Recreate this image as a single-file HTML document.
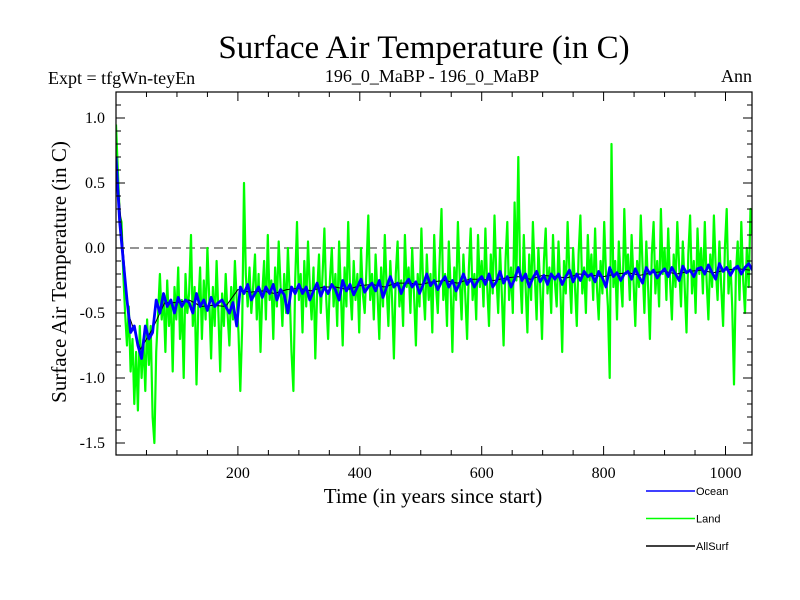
<!DOCTYPE html>
<html><head><meta charset="utf-8">
<style>
html,body{margin:0;padding:0;background:#fff;}
svg{display:block;}
text{font-family:"Liberation Serif",serif;fill:#000;}
</style></head>
<body>
<svg id="chart" width="800" height="600" xmlns="http://www.w3.org/2000/svg">
<text x="424" y="58" font-size="33" text-anchor="middle">Surface Air Temperature (in C)</text>
<text x="48" y="84" font-size="18">Expt = tfgWn-teyEn</text>
<text x="432" y="82" font-size="18" text-anchor="middle">196_0_MaBP - 196_0_MaBP</text>
<text x="752" y="82" font-size="18" text-anchor="end">Ann</text>
<text transform="translate(66,272) rotate(-90)" font-size="21" text-anchor="middle">Surface Air Temperature (in C)</text>
<text x="433" y="503" font-size="21" text-anchor="middle">Time (in years since start)</text>
<g id="plot"></g>
<g id="legend"></g>
</svg>
<script>
const landStep = 3;
const landValues = [
0.95,0.6,0.25,0.2,-0.2,-0.5,-0.75,-0.45,-0.95,-0.7,-1.2,-0.8,-1.25,-0.6,-1.0,-0.7,-1.1,-0.55,-0.9,-0.6,
-1.3,-1.5,-0.8,-0.5,-0.2,-0.55,-0.35,-0.8,-0.25,-0.6,-0.4,-0.95,-0.3,-0.55,-0.15,-0.7,-0.4,-1.0,-0.2,-0.5,
-0.35,0.1,-0.6,-0.3,-1.05,-0.45,-0.15,-0.7,-0.25,-0.55,0.0,-0.4,-0.85,-0.3,-0.6,-0.1,-0.5,-0.95,-0.35,-0.6,
-0.2,-0.5,-0.75,-0.3,-0.55,-0.1,-0.4,-0.65,-1.1,-0.6,0.5,-0.2,-0.45,-0.15,-0.5,-0.3,-0.05,-0.55,-0.2,-0.8,
-0.35,-0.1,-0.55,0.1,-0.4,-0.25,-0.7,-0.15,-0.45,0.05,-0.3,-0.6,-0.2,-0.5,0.0,-0.35,-0.8,-1.1,-0.25,0.2,
-0.4,-0.2,-0.65,-0.1,-0.45,0.05,-0.3,-0.55,-0.15,-0.85,-0.35,-0.05,-0.5,-0.2,0.15,-0.4,-0.7,-0.25,0.0,-0.45,
-0.2,-0.6,0.05,-0.35,-0.75,-0.15,-0.45,0.2,-0.3,-0.55,-0.1,-0.4,-0.2,-0.65,0.0,-0.35,-0.5,-0.15,0.25,-0.4,
-0.2,-0.55,-0.05,-0.35,-0.7,-0.15,-0.45,0.1,-0.3,-0.6,-0.1,-0.4,-0.85,-0.2,0.05,-0.45,-0.25,-0.6,0.1,-0.3,
-0.15,-0.5,0.0,-0.35,-0.75,-0.2,-0.45,0.15,-0.3,-0.55,-0.05,-0.4,-0.2,-0.65,0.1,-0.3,-0.5,-0.1,0.3,-0.4,
-0.2,-0.6,0.05,-0.3,-0.8,-0.15,-0.4,0.2,-0.25,-0.55,-0.05,-0.35,-0.7,-0.15,0.15,-0.4,-0.2,-0.55,0.1,-0.3,
-0.1,-0.45,0.15,-0.3,-0.6,-0.05,-0.35,0.25,-0.2,-0.5,0.0,-0.35,-0.75,-0.1,0.2,-0.4,-0.15,-0.5,0.35,-0.25,
0.7,-0.2,-0.5,0.1,-0.3,-0.65,-0.05,-0.4,0.2,-0.2,-0.55,0.0,-0.3,-0.7,-0.1,0.15,-0.35,-0.15,-0.5,0.1,
-0.25,-0.45,0.05,-0.3,-0.8,-0.1,-0.35,0.2,-0.2,-0.5,0.0,-0.3,-0.6,-0.05,0.25,-0.35,-0.15,-0.5,0.1,-0.25,
-0.05,-0.4,0.15,-0.3,-0.55,-0.1,-0.35,0.2,-0.2,-0.45,-1.0,0.8,-0.3,-0.1,-0.55,0.05,-0.25,-0.45,0.3,-0.2,
-0.05,-0.4,0.1,-0.25,-0.6,-0.1,-0.3,0.25,-0.15,-0.5,0.05,-0.3,-0.7,-0.05,0.2,-0.35,-0.1,-0.45,0.3,-0.2,
0.0,-0.4,0.15,-0.25,-0.55,-0.05,-0.3,0.2,-0.15,-0.45,0.05,-0.3,-0.65,-0.05,0.25,-0.35,-0.1,-0.5,0.15,-0.2,
0.0,-0.35,0.2,-0.25,-0.55,-0.05,-0.3,0.25,-0.15,-0.4,0.05,-0.3,-0.6,0.0,0.3,-0.35,-0.1,-0.45,-1.05,-0.2,
0.05,-0.4,0.2,-0.25,-0.5,0.0,-0.3,0.3,0.1
];
const oceanStep = 6;
const oceanValues = [
0.7,0.2,-0.1,-0.4,-0.65,-0.6,-0.75,-0.85,-0.6,-0.7,
-0.65,-0.4,-0.5,-0.35,-0.45,-0.4,-0.5,-0.38,-0.45,-0.4,
-0.42,-0.5,-0.35,-0.45,-0.4,-0.48,-0.38,-0.45,-0.42,-0.4,
-0.45,-0.5,-0.42,-0.6,-0.3,-0.35,-0.28,-0.4,-0.35,-0.3,
-0.38,-0.3,-0.35,-0.28,-0.4,-0.32,-0.36,-0.5,-0.3,-0.35,
-0.28,-0.35,-0.3,-0.4,-0.33,-0.27,-0.37,-0.3,-0.35,-0.28,
-0.32,-0.4,-0.25,-0.33,-0.28,-0.36,-0.3,-0.24,-0.34,-0.3,
-0.27,-0.33,-0.25,-0.38,-0.3,-0.22,-0.3,-0.27,-0.35,-0.28,
-0.24,-0.3,-0.26,-0.35,-0.28,-0.2,-0.29,-0.25,-0.32,-0.26,
-0.22,-0.3,-0.25,-0.33,-0.27,-0.2,-0.28,-0.24,-0.3,-0.25,
-0.22,-0.28,-0.2,-0.3,-0.26,-0.18,-0.27,-0.22,-0.3,-0.24,
-0.15,-0.25,-0.2,-0.3,-0.23,-0.18,-0.26,-0.21,-0.28,-0.2,
-0.24,-0.2,-0.28,-0.22,-0.17,-0.26,-0.2,-0.25,-0.18,-0.22,
-0.2,-0.26,-0.18,-0.23,-0.3,-0.15,-0.22,-0.19,-0.25,-0.2,
-0.18,-0.24,-0.16,-0.22,-0.27,-0.15,-0.2,-0.17,-0.23,-0.19,
-0.16,-0.22,-0.15,-0.2,-0.25,-0.14,-0.19,-0.17,-0.22,-0.16,
-0.15,-0.2,-0.13,-0.19,-0.24,-0.12,-0.18,-0.15,-0.21,-0.16,
-0.14,-0.2,-0.15,-0.12,-0.17
];
const allSurfStep = 20;
const allSurfValues = [0.7,-0.5,-0.78,-0.62,-0.42,-0.42,-0.4,-0.45,-0.44,-0.45,-0.32,-0.34,-0.33,-0.35,-0.32,-0.31,-0.33,-0.3,-0.3,-0.32,-0.29,-0.28,-0.3,-0.27,-0.27,-0.28,-0.26,-0.25,-0.27,-0.24,-0.24,-0.25,-0.23,-0.22,-0.24,-0.21,-0.22,-0.23,-0.2,-0.21,-0.22,-0.2,-0.19,-0.21,-0.19,-0.18,-0.2,-0.18,-0.17,-0.19,-0.17,-0.16,-0.17];
const xTickLabels = [200,400,600,800,1000];
const yTickLabels = [1.0,0.5,0.0,-0.5,-1.0,-1.5];
const legendNames = ["Ocean","Land","AllSurf"];

const NS="http://www.w3.org/2000/svg";
const L=116,R=752,T=92,B=455;
function xs(v){return L+v*0.6095;}
function ys(v){return 248-v*130;}
const plot=document.getElementById('plot');
function mk(tag,attrs,parent){const e=document.createElementNS(NS,tag);for(const k in attrs)e.setAttribute(k,attrs[k]);(parent||plot).appendChild(e);return e;}

const clip=mk('clipPath',{id:'clip'});
mk('rect',{x:L,y:T,width:R-L,height:B-T},clip);

const zl=mk('line',{x1:L,x2:R,y1:ys(0),y2:ys(0),stroke:'#555','stroke-width':1.3,'stroke-dasharray':'9,5'});



function series(vals,step,color,w,name){
  const d=vals.map((v,i)=>(i?'L':'M')+xs(i*step).toFixed(1)+','+ys(v).toFixed(1)).join('');
  const p=mk('path',{d:d,fill:'none',stroke:color,'stroke-width':w,'clip-path':'url(#clip)','stroke-linejoin':'round'});
  
  
}
series(landValues,landStep,'#00ff00',2.2,'land-series');
series(allSurfValues,allSurfStep,'#000',1,'allsurf-series');
series(oceanValues,oceanStep,'#0000ff',2.8,'ocean-series');

const frame=mk('rect',{x:L,y:T,width:R-L,height:B-T,fill:'none',stroke:'#000','stroke-width':1.2});



for(let v=0;v<=1045;v+=50){
  const x=xs(v),len=(v%200===0)?9:5;
  mk('line',{x1:x,x2:x,y1:B,y2:B-len,stroke:'#000'});
  mk('line',{x1:x,x2:x,y1:T,y2:T+len,stroke:'#000'});
}
xTickLabels.forEach(v=>{
  const t=mk('text',{x:xs(v),y:B+23,'font-size':16,'text-anchor':'middle'});
  t.textContent=v;
  
  
});
for(let k=-16;k<=11;k++){
  const v=k/10,y=ys(v),len=(k%5===0)?9:5;
  if(y<T||y>B)continue;
  mk('line',{x1:L,x2:L+len,y1:y,y2:y,stroke:'#000'});
  mk('line',{x1:R,x2:R-len,y1:y,y2:y,stroke:'#000'});
}
yTickLabels.forEach(v=>{
  const t=mk('text',{x:L-11,y:ys(v)+5,'font-size':16,'text-anchor':'end'});
  t.textContent=v.toFixed(1);
  
  
});

const lg=document.getElementById('legend');
const lgColors=['#0000ff','#00ff00','#000'];
legendNames.forEach((n,i)=>{
  const y=491+i*27.5;
  const l=mk('line',{x1:646,x2:695,y1:y,y2:y,stroke:lgColors[i],'stroke-width':1.5},lg);
  
  
  const t=mk('text',{x:696,y:y+4,'font-size':11},lg);
  t.setAttribute('style','font-family:"Liberation Sans",sans-serif');
  t.textContent=n;
  
  
});
</script>
</body></html>
